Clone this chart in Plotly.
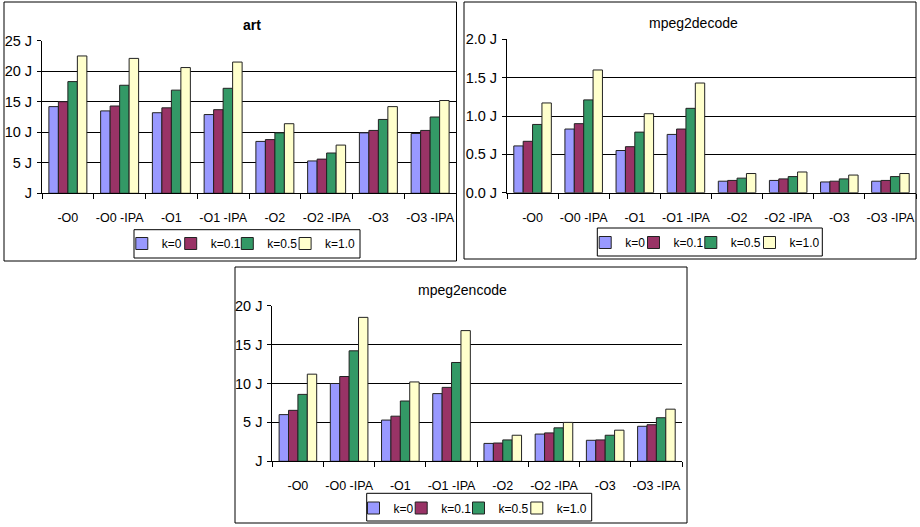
import plotly.graph_objects as go

categories = ["-O0", "-O0 -IPA", "-O1", "-O1 -IPA", "-O2", "-O2 -IPA", "-O3", "-O3 -IPA"]
series_names = ["k=0", "k=0.1", "k=0.5", "k=1.0"]
series_colors = ["#9999FF", "#993366", "#339966", "#FFFFCC"]

# art (J)
art_k0 = [14.2, 13.5, 13.2, 12.9, 8.5, 5.3, 9.9, 9.8]
art_k01 = [15.0, 14.3, 14.0, 13.7, 8.8, 5.6, 10.3, 10.3]
art_k05 = [18.3, 17.7, 16.9, 17.2, 9.9, 6.6, 12.1, 12.5]
art_k10 = [22.5, 22.1, 20.6, 21.5, 11.4, 7.9, 14.2, 15.2]

# mpeg2decode (J)
dec_k0 = [0.61, 0.83, 0.55, 0.76, 0.15, 0.16, 0.14, 0.15]
dec_k01 = [0.67, 0.90, 0.60, 0.83, 0.16, 0.18, 0.15, 0.16]
dec_k05 = [0.89, 1.21, 0.79, 1.10, 0.19, 0.21, 0.18, 0.21]
dec_k10 = [1.17, 1.60, 1.03, 1.43, 0.25, 0.27, 0.23, 0.25]

# mpeg2encode (J)
enc_k0 = [6.0, 10.0, 5.3, 8.7, 2.3, 3.5, 2.7, 4.5]
enc_k01 = [6.55, 10.9, 5.8, 9.5, 2.35, 3.65, 2.75, 4.7]
enc_k05 = [8.6, 14.2, 7.75, 12.7, 2.75, 4.3, 3.35, 5.6]
enc_k10 = [11.2, 18.5, 10.2, 16.8, 3.35, 5.0, 4.0, 6.7]

art_ticks = [0, 5, 10, 15, 20, 25]
art_ticktext = ["J", "5 J", "10 J", "15 J", "20 J", "25 J"]
dec_ticks = [0.0, 0.5, 1.0, 1.5, 2.0]
dec_ticktext = ["0.0 J", "0.5 J", "1.0 J", "1.5 J", "2.0 J"]
enc_ticks = [0, 5, 10, 15, 20]
enc_ticktext = ["J", "5 J", "10 J", "15 J", "20 J"]

titles = ["art", "mpeg2decode", "mpeg2encode"]

W, H = 920, 527
FONT = "Liberation Sans, Arial, sans-serif"

def px_x(v):
    return v / W

def px_y(v):
    return 1 - v / H

charts = [
    dict(data=[art_k0, art_k01, art_k05, art_k10], ticks=art_ticks, ticktext=art_ticktext,
         rng=[0, 25], xdom=[42, 456], ydom=[40.7, 193.3],
         box=[4, 2, 456.5, 261], title_xy=(252, 25), title_bold=True,
         legbox=[134, 229.7, 360, 258], leg_cx=[142.8, 191.7, 248.3, 306.1], leg_cy=243.5),
    dict(data=[dec_k0, dec_k01, dec_k05, dec_k10], ticks=dec_ticks, ticktext=dec_ticktext,
         rng=[0, 2.0], xdom=[507, 916], ydom=[39.3, 192.7],
         box=[464, 2, 916, 259], title_xy=(693, 23), title_bold=False,
         legbox=[597.3, 228, 822.3, 256], leg_cx=[606.2, 654.5, 711.8, 770.5], leg_cy=242.5),
    dict(data=[enc_k0, enc_k01, enc_k05, enc_k10], ticks=enc_ticks, ticktext=enc_ticktext,
         rng=[0, 20], xdom=[272.3, 682], ydom=[305.7, 461.3],
         box=[235, 267, 687, 523], title_xy=(462, 290), title_bold=False,
         legbox=[366.7, 493.3, 591.7, 521], leg_cx=[374.5, 422.2, 479.5, 537.8], leg_cy=508),
]

fig = go.Figure()
layout = dict(
    width=W, height=H, autosize=False,
    margin=dict(l=0, r=0, t=0, b=0, pad=0, autoexpand=False),
    paper_bgcolor="white", plot_bgcolor="white",
    barmode="group", bargap=0.266, bargroupgap=0,
    font=dict(family=FONT, size=13, color="black"),
    shapes=[], annotations=[],
)

leg_idx = 0
for i, c in enumerate(charts):
    n = "" if i == 0 else str(i + 1)
    xa, ya = "x" + n, "y" + n
    for s, vals in enumerate(c["data"]):
        leg_idx += 1
        lname = "legend" if leg_idx == 1 else "legend%d" % leg_idx
        fig.add_trace(go.Bar(
            x=categories, y=vals, name=series_names[s],
            marker=dict(color=series_colors[s], line=dict(color="#222222", width=1)),
            xaxis=xa, yaxis=ya, legend=lname, showlegend=True,
        ))
        layout[lname] = dict(
            orientation="h", x=px_x(c["leg_cx"][s] - 21), y=px_y(c["leg_cy"]),
            xanchor="left", yanchor="middle", borderwidth=0,
            bgcolor="rgba(0,0,0,0)", font=dict(size=12), itemwidth=30,
        )
    layout["xaxis" + n] = dict(
        domain=[px_x(c["xdom"][0]), px_x(c["xdom"][1])], anchor=ya,
        showline=True, linecolor="black", linewidth=1, showgrid=False,
        ticks="outside", tickson="boundaries", ticklen=5, tickcolor="black",
        tickangle=0, ticklabelstandoff=13, tickfont=dict(size=12.5),
        automargin=False, fixedrange=True,
    )
    layout["yaxis" + n] = dict(
        domain=[px_y(c["ydom"][1]), px_y(c["ydom"][0])], anchor=xa,
        range=c["rng"], tickvals=c["ticks"], ticktext=c["ticktext"],
        showline=True, linecolor="black", linewidth=1,
        showgrid=True, gridcolor="black", gridwidth=1,
        ticks="outside", ticklen=4, tickcolor="black", tickfont=dict(size=14.5),
        ticklabelstandoff=2, zeroline=False, automargin=False, fixedrange=True,
    )
    for b in (c["box"], c["legbox"]):
        layout["shapes"].append(dict(
            type="rect", xref="paper", yref="paper",
            x0=px_x(b[0]), x1=px_x(b[2]), y0=px_y(b[3]), y1=px_y(b[1]),
            line=dict(color="black", width=1), fillcolor="rgba(0,0,0,0)", layer="below",
        ))
    t = c["title_xy"]
    txt = "<b>%s</b>" % titles[i] if c["title_bold"] else titles[i]
    layout["annotations"].append(dict(
        text=txt, xref="paper", yref="paper", x=px_x(t[0]), y=px_y(t[1]),
        xanchor="center", yanchor="middle", showarrow=False, font=dict(size=14),
    ))

fig.update_layout(**layout)
fig.write_html("out.html", config={"displayModeBar": False},
               post_script="document.body.style.margin='0';")
